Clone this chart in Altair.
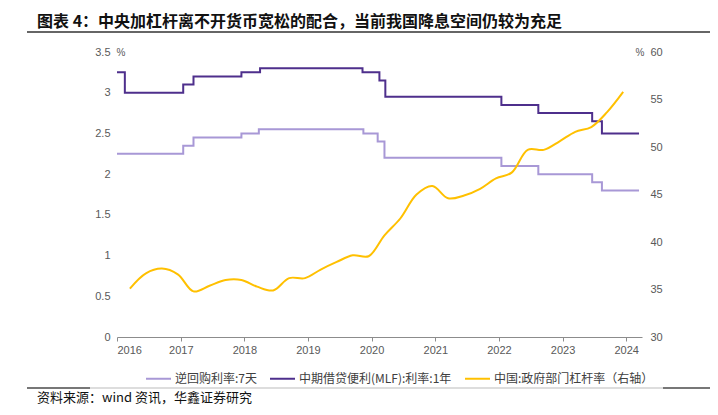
import altair as alt
import pandas as pd

# ---------------- data ----------------
series_names = ["逆回购利率:7天", "中期借贷便利(MLF):利率:1年", "中国:政府部门杠杆率（右轴）"]
series_colors = ["#A898D6", "#4E2F8C", "#FFC000"]

rr_dates = ["2016-01-01", "2017-01-15", "2017-03-15", "2017-12-15", "2018-03-25", "2019-11-15",
            "2020-02-05", "2020-03-15", "2022-01-15", "2022-08-15", "2023-06-20", "2023-08-15", "2024-03-15"]
rr_vals = [2.25, 2.35, 2.45, 2.50, 2.55, 2.50, 2.40, 2.20, 2.10, 2.00, 1.90, 1.80, 1.80]

mlf_dates = ["2016-01-01", "2016-02-15", "2017-01-15", "2017-03-15", "2017-12-15", "2018-04-01",
             "2019-11-10", "2020-02-15", "2020-03-20", "2022-01-15", "2022-08-15", "2023-06-20",
             "2023-08-15", "2024-03-15"]
mlf_vals = [3.25, 3.00, 3.10, 3.20, 3.25, 3.30, 3.25, 3.15, 2.95, 2.85, 2.75, 2.65, 2.50, 2.50]

gov_dates = [f"{y}-{m:02d}-15" for y in range(2016, 2024) for m in (3, 6, 9, 12)]
gov_vals = [35.1, 36.7, 37.2, 36.6, 34.8, 35.4, 36.0, 36.0,
            35.3, 34.9, 36.2, 36.2, 37.1, 37.9, 38.6, 38.5,
            40.7, 42.5, 45.0, 45.9, 44.6, 44.9, 45.6, 46.7,
            47.3, 49.7, 49.7, 50.6, 51.6, 52.1, 53.7, 55.8]

left_ticks = [0, 0.5, 1, 1.5, 2, 2.5, 3, 3.5]
right_ticks = [30, 35, 40, 45, 50, 55, 60]
year_ticks = list(range(2016, 2025))

title_text = "图表 4：中央加杠杆离不开货币宽松的配合，当前我国降息空间仍较为充足"
source_text = "资料来源：wind 资讯，华鑫证券研究"
unit_text = "%"

# ---------------- frames ----------------
rates_df = pd.concat([
    pd.DataFrame({"date": rr_dates, "value": rr_vals, "series": series_names[0]}),
    pd.DataFrame({"date": mlf_dates, "value": mlf_vals, "series": series_names[1]}),
])
gov_df = pd.DataFrame({"date": gov_dates, "value": gov_vals, "series": series_names[2]})
one = pd.DataFrame({"a": [0]})

FONT_NUM = "Liberation Sans"
FONT_CJK = "Noto Sans CJK SC"

x_scale = alt.Scale(type="utc", domain=[alt.DateTime(year=2016, month=1, date=1, utc=True),
                                         alt.DateTime(year=2024, month=4, date=1, utc=True)])
x_enc = alt.X("date:T", scale=x_scale, title=None,
              axis=alt.Axis(values=[alt.DateTime(year=y, month=1, date=1, utc=True) for y in year_ticks],
                            format="%Y", domainColor="#8C8C8C", tickColor="#8C8C8C", tickSize=4,
                            labelFont=FONT_NUM, labelFontSize=11, labelColor="#595959",
                            labelPadding=3, grid=False))

color_enc = alt.Color("series:N",
                      scale=alt.Scale(domain=series_names, range=series_colors),
                      legend=alt.Legend(orient="none", legendX=28, legendY=313, direction="horizontal",
                                        title=None, symbolType="stroke", symbolSize=625,
                                        symbolStrokeWidth=2, labelFont=FONT_CJK, labelFontSize=12,
                                        labelColor="#404040", columnPadding=9, labelOffset=3))

rates = alt.Chart(rates_df).mark_line(interpolate="step-after", strokeWidth=2).encode(
    x=x_enc,
    y=alt.Y("value:Q", title=None,
            scale=alt.Scale(domain=[0, 3.5], nice=False, zero=False),
            axis=alt.Axis(orient="left", values=left_ticks, format="~g", domain=False, ticks=False,
                          grid=False, labelFont=FONT_NUM, labelFontSize=11, labelColor="#595959",
                          labelPadding=7)),
    color=color_enc,
)

gov = alt.Chart(gov_df).mark_line(interpolate="catmull-rom", strokeWidth=2).encode(
    x=x_enc,
    y=alt.Y("value:Q", title=None,
            scale=alt.Scale(domain=[30, 60], nice=False, zero=False),
            axis=alt.Axis(orient="right", values=right_ticks, format="~g", domain=False, ticks=False,
                          grid=False, labelFont=FONT_NUM, labelFontSize=11, labelColor="#595959",
                          labelPadding=8)),
    color=color_enc,
)

title = alt.Chart(one).mark_text(align="left", baseline="middle", font=FONT_CJK, fontSize=16,
                                 fontWeight="bold", color="#111111").encode(
    x=alt.value(-80), y=alt.value(-30), text=alt.value(title_text))
title_rule = alt.Chart(one).mark_rule(color="#333333", strokeWidth=1.5).encode(
    x=alt.value(-90), x2=alt.value(600), y=alt.value(-20))
unit_left = alt.Chart(one).mark_text(align="center", baseline="middle", font=FONT_NUM, fontSize=10,
                                     color="#595959").encode(
    x=alt.value(4), y=alt.value(1), text=alt.value(unit_text))
unit_right = alt.Chart(one).mark_text(align="center", baseline="middle", font=FONT_NUM, fontSize=10,
                                      color="#595959").encode(
    x=alt.value(523), y=alt.value(1), text=alt.value(unit_text))
bottom_rule = alt.Chart(one).mark_rule(color="#BBBBBB", strokeWidth=1).encode(
    x=alt.value(-90), x2=alt.value(600), y=alt.value(336))
bottom_rule_l = alt.Chart(one).mark_rule(color="#555555", strokeWidth=1.5).encode(
    x=alt.value(-90), x2=alt.value(-27), y=alt.value(336))
bottom_rule_r = alt.Chart(one).mark_rule(color="#555555", strokeWidth=1.5).encode(
    x=alt.value(546), x2=alt.value(600), y=alt.value(336))
source = alt.Chart(one).mark_text(align="left", baseline="middle", font=FONT_CJK, fontSize=13,
                                  color="#111111").encode(
    x=alt.value(-80), y=alt.value(346), text=alt.value(source_text))

chart = alt.layer(
    rates, gov, title, title_rule, unit_left, unit_right,
    bottom_rule, bottom_rule_l, bottom_rule_r, source
).resolve_scale(y="independent").properties(
    width=525, height=285,
    autosize=alt.AutoSizeParams(type="none"),
    padding={"left": 109, "top": 44, "right": 68, "bottom": 70},
    background="white",
).configure_view(stroke=None)

chart.save("out.html", embed_options={"renderer": "svg", "actions": False})
